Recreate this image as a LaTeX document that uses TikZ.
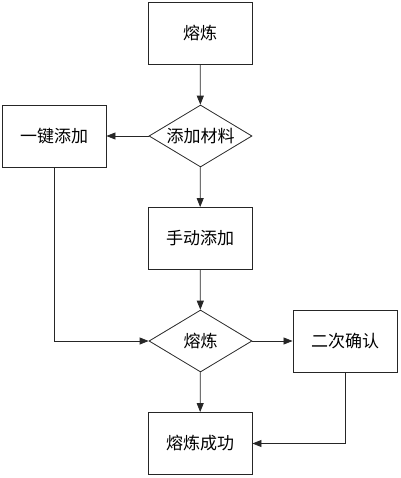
\documentclass[tikz,border=0pt]{standalone}
\usepackage{fontspec}
\newfontfamily\cjk{Noto Sans CJK SC}
\usetikzlibrary{shapes.geometric,arrows.meta}
\begin{document}
\begin{tikzpicture}[x=1pt,y=-1pt,
  every node/.style={font=\cjk\fontsize{17}{19}\selectfont, text=black},
  procbox/.style={draw=black!85, line width=0.9pt, minimum width=104pt, minimum height=62pt, inner sep=0pt},
  decide/.style={draw=black!85, line width=0.8pt, diamond, aspect=1.66, minimum width=103pt, minimum height=62pt, inner sep=0pt},
  conn/.style={draw=black!85, line width=0.8pt, -{Triangle[length=9pt,width=7pt]}}]
\useasboundingbox (0,0) rectangle (400,478);
\node[procbox] (s) at (200,33) {熔炼};
\node[decide] (d1) at (200.5,136) {添加材料};
\node[procbox] (a) at (54,136) {一键添加};
\node[procbox] (m) at (200,238.5) {手动添加};
\node[decide] (d2) at (200.5,341) {熔炼};
\node[procbox] (c) at (345,341) {二次确认};
\node[procbox] (ok) at (200,443.5) {熔炼成功};
\draw[conn] (s) -- (d1);
\draw[conn] (d1) -- (a);
\draw[conn] (d1) -- (m);
\draw[conn] (m) -- (d2);
\draw[conn] (a.south) |- (d2.west);
\draw[conn] (d2) -- (c);
\draw[conn] (d2) -- (ok);
\draw[conn] (c.south) |- (ok.east);
\end{tikzpicture}
\end{document}
